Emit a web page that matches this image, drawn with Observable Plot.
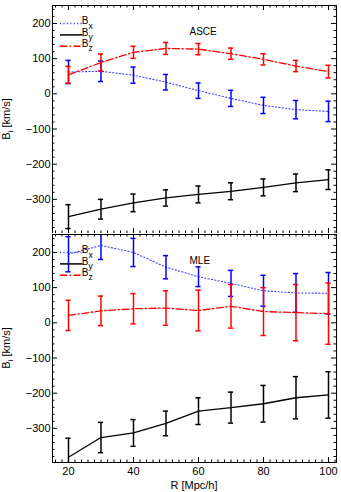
<!DOCTYPE html>
<html><head><meta charset="utf-8">
<script src="https://cdn.jsdelivr.net/npm/d3@7"></script>
<script src="https://cdn.jsdelivr.net/npm/@observablehq/plot@0.6"></script>
<style>
body{margin:0;background:#fff;}
#chart svg{display:block;}
</style></head><body><div id="chart"></div>
<script>
// ---- data ----
const R = [20, 30, 40, 50, 60, 70, 80, 90, 100];

// ASCE panel
const asceBx    = [62, 64, 53, 33, 9, -13, -33, -45, -50];
const asceBxErr = [33, 29, 23, 22, 22, 23, 23, 26, 29];
const asceBy    = [-349, -328, -310, -296, -286, -277, -266, -253, -244];
const asceByErr = [34, 28, 25, 23, 24, 24, 24, 25, 28];
const asceBz    = [54, 89, 118, 129, 127, 114, 98, 79, 63];
const asceBzErr = [24, 24, 17, 17, 16, 16, 16, 16, 18];

// MLE panel
const mleBx    = [195, 220, 200, 158, 131, 112, 91, 85, 84];
const mleBxErr = [50, 40, 40, 33, 28, 37, 44, 55, 59];
const mleBy    = [-382, -326, -313, -286, -251, -241, -230, -213, -205];
const mleByErr = [54, 43, 38, 35, 38, 44, 52, 60, 66];
const mleBz    = [21, 34, 40, 42, 35, 47, 32, 29, 26];
const mleBzErr = [43, 42, 43, 49, 58, 62, 68, 80, 87];

const panelNames = ["ASCE", "MLE"];
const seriesKeys = ["x", "y", "z"];
const xTicks = [20, 40, 60, 80, 100];
const yTicks = [-300, -200, -100, 0, 100, 200];
const xLabel = "R [Mpc/h]";
const yLabelMain = "B", yLabelSub = "i", yLabelUnit = " [km/s]";

// ---- styles ----
const FONT = "'Liberation Sans', Arial, Helvetica, sans-serif";
const W = 341, ML = 52, MR = 5;
const X_DOMAIN = [15.08, 102.46];
const Y_DOMAIN = [-397, 251];
const styles = {
  x: {bar: "#0000ff", line: "#4040ff", dash: "1.2,2.2", lw: 1.1},
  y: {bar: "#000000", line: "#000000", dash: null, lw: 1.3},
  z: {bar: "#ff0000", line: "#ff0000", dash: "7,2.5,1.5,2.5", lw: 1.3}
};

const xMinor = d3.range(16, 103, 2).filter(v => v % 20 !== 0);
const yMinor = d3.range(-380, 251, 20).filter(v => v % 100 !== 0);

function longData(vals, errs) {
  const out = [];
  seriesKeys.forEach((k, s) => {
    R.forEach((r, i) => out.push({series: k, R: r, v: vals[s][i], lo: vals[s][i] - errs[s][i], hi: vals[s][i] + errs[s][i]}));
  });
  return out;
}

function makePanel(name, data, {height, marginTop, marginBottom, showX}) {
  const fw = W - ML - MR, fh = height - marginTop - marginBottom;
  const marks = [];
  // inward ticks on all four sides
  marks.push(
    Plot.tickY(yTicks, {y: d => d, insetRight: fw - 5, stroke: "black"}),
    Plot.tickY(yMinor, {y: d => d, insetRight: fw - 2.5, stroke: "black"}),
    Plot.tickY(yTicks, {y: d => d, insetLeft: fw - 5, stroke: "black"}),
    Plot.tickY(yMinor, {y: d => d, insetLeft: fw - 2.5, stroke: "black"}),
    Plot.tickX(xTicks, {x: d => d, insetTop: fh - 5, stroke: "black"}),
    Plot.tickX(xMinor, {x: d => d, insetTop: fh - 2.5, stroke: "black"}),
    Plot.tickX(xTicks, {x: d => d, insetBottom: fh - 5, stroke: "black"}),
    Plot.tickX(xMinor, {x: d => d, insetBottom: fh - 2.5, stroke: "black"})
  );
  for (const k of seriesKeys) {
    const d = data.filter(e => e.series === k);
    const st = styles[k];
    marks.push(
      Plot.line(d, {x: "R", y: "v", stroke: st.line, strokeWidth: st.lw, strokeDasharray: st.dash, clip: true}),
      Plot.ruleX(d, {x: "R", y1: "lo", y2: "hi", stroke: st.bar, strokeWidth: 1.5, clip: true}),
      Plot.ruleY(d, {y: "lo", x1: "R", x2: "R", insetLeft: -2.6, insetRight: -2.6, stroke: st.bar, strokeWidth: 1.5, clip: true}),
      Plot.ruleY(d, {y: "hi", x1: "R", x2: "R", insetLeft: -2.6, insetRight: -2.6, stroke: st.bar, strokeWidth: 1.5, clip: true})
    );
  }
  marks.push(
    Plot.frame({stroke: "black", strokeWidth: 1}),
    Plot.axisY({ticks: yTicks, tickSize: 0, tickPadding: 2, label: null, fontSize: 11}),
    Plot.text([name], {text: d => d, frameAnchor: "top-left", dx: 137, dy: 22, textAnchor: "start", fontSize: 10, fill: "black"})
  );
  if (showX) {
    marks.push(
      Plot.axisX({ticks: xTicks, tickSize: 0, tickPadding: 5, label: null, fontSize: 11})
    );
  }
  const svg = Plot.plot({
    width: W, height, marginLeft: ML, marginRight: MR, marginTop, marginBottom,
    style: {fontFamily: FONT, fontSize: "11px", color: "black", background: "white"},
    x: {domain: X_DOMAIN, ...(showX ? {} : {axis: null})},
    y: {domain: Y_DOMAIN},
    marks
  });
  const s = d3.select(svg);
  // x-axis title
  if (showX) {
    s.append("text")
      .attr("x", ML + fw / 2).attr("y", marginTop + fh + 27)
      .attr("text-anchor", "middle")
      .attr("font-family", FONT).attr("font-size", 11).attr("fill", "black")
      .text(xLabel);
  }
  // y-axis title with subscript
  const cy = marginTop + fh / 2;
  const t = s.append("text")
    .attr("transform", `translate(9.5,${cy}) rotate(-90)`)
    .attr("text-anchor", "middle")
    .attr("font-family", FONT).attr("font-size", 11).attr("fill", "black");
  t.append("tspan").text(yLabelMain);
  t.append("tspan").attr("dy", 3).attr("font-size", 8).text(yLabelSub);
  t.append("tspan").attr("dy", -3).text(yLabelUnit);
  // legend
  const g = s.append("g").attr("font-family", FONT).attr("fill", "black");
  seriesKeys.forEach((k, i) => {
    const st = styles[k];
    const ly = marginTop + 18.5 + i * 11.4;
    g.append("line").attr("x1", 60).attr("x2", 82.5).attr("y1", ly).attr("y2", ly)
      .attr("stroke", st.line).attr("stroke-width", st.lw + 0.2)
      .attr("stroke-dasharray", st.dash);
    const by = marginTop + 19.3 + i * 11.3;
    g.append("text").attr("x", 85).attr("y", by).attr("font-size", 10).text("B");
    g.append("text").attr("x", 90.5).attr("y", by + 4.5).attr("font-size", 8.5).text(k);
  });
  return svg;
}

const asce = longData([asceBx, asceBy, asceBz], [asceBxErr, asceByErr, asceBzErr]);
const mle = longData([mleBx, mleBy, mleBz], [mleBxErr, mleByErr, mleBzErr]);

const root = document.getElementById("chart");
root.append(makePanel(panelNames[0], asce, {height: 233, marginTop: 5, marginBottom: 0, showX: false}));
root.append(makePanel(panelNames[1], mle, {height: 259, marginTop: 1, marginBottom: 30, showX: true}));
</script></body></html>
